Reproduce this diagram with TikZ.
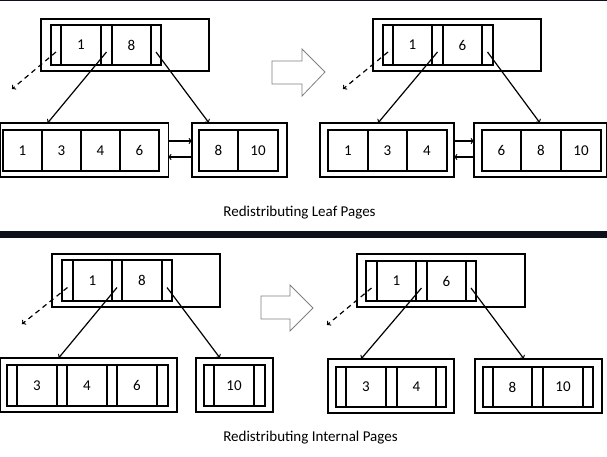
\documentclass[tikz,border=0pt]{standalone}
\usepackage{fontspec}
\setmainfont{Carlito}
\usepackage{xcolor}
\definecolor{barcol}{HTML}{0F111A}

\tikzset{
  page/.style={draw, line width=1.2pt, inner sep=0pt, outer sep=0pt, anchor=north west},
  slot/.style={draw, line width=1.2pt, inner sep=0pt, outer sep=0pt, anchor=north west},
  key/.style={slot, font=\fontsize{15}{18}\selectfont},
  link/.style={->, line width=1.2pt},
  nullptr/.style={->, dash pattern=on 5pt off 4pt, line width=1.2pt},
  fatarrow/.style={draw=gray, line width=0.8pt, fill=white},
}

\begin{document}
\begin{tikzpicture}[x=1pt,y=-1pt]

\useasboundingbox (0,0) rectangle (607,456);

% frame lines
\draw[line width=1.2pt, color=barcol] (0,0.6) -- (607,0.6);
\fill[barcol] (0,231) rectangle (607,238);

%%%%% redistributing leaf pages, before

%root
\node[page, minimum width=168, minimum height=52] at (41,19) (tlr) {};
\node[slot, minimum width=10, minimum height=40] at (51,25) (tlp0) {};
\node[key, minimum width=40, minimum height=40] at (61,25) (tlk1) {1};
\node[slot, minimum width=11, minimum height=40] at (101,25) (tlp1) {};
\node[key, minimum width=39, minimum height=40] at (112,25) (tlk2) {8};
\node[slot, minimum width=10, minimum height=40] at (151,25) (tlp2) {};

%leaves
\node[page, minimum width=167.5, minimum height=54] at (0.6,123) (tla) {};
\node[key, minimum width=39, minimum height=41] at (3,130) (tla1) {1};
\node[key, minimum width=39, minimum height=41] at (42,130) (tla2) {3};
\node[key, minimum width=39, minimum height=41] at (81,130) (tla3) {4};
\node[key, minimum width=39, minimum height=41] at (120,130) (tla4) {6};

\node[page, minimum width=95, minimum height=54] at (192,123) (tlb) {};
\node[key, minimum width=39, minimum height=41] at (199,130) (tlb1) {8};
\node[key, minimum width=40, minimum height=41] at (238,130) (tlb2) {10};

\coordinate (tlnull) at (12,89);
\draw[nullptr] ([yshift=-7pt]tlp0.center) -- (tlnull);
\draw[link] ([yshift=-7pt]tlp1.center) -- ([xshift=47pt]tla.north west);
\draw[link] ([yshift=-7pt]tlp2.center) -- ([xshift=17pt]tlb.north west);
\draw[link] ([yshift=9pt]tla.east) -- ([yshift=9pt]tlb.west);
\draw[link] ([yshift=-7pt]tlb.west) -- ([yshift=-7pt]tla.east);

%arrow
\draw[fatarrow] (272,61) -- (302,61) -- (302,49) -- (325,72) -- (302,96) -- (302,84) -- (272,84) -- cycle;

%%%%% redistributing leaf pages, after

%root
\node[page, minimum width=168, minimum height=52] at (373,19) (trr) {};
\node[slot, minimum width=10, minimum height=40] at (383,25) (trp0) {};
\node[key, minimum width=39, minimum height=40] at (393,25) (trk1) {1};
\node[slot, minimum width=11, minimum height=40] at (432,25) (trp1) {};
\node[key, minimum width=39, minimum height=40] at (443,25) (trk2) {6};
\node[slot, minimum width=11, minimum height=40] at (482,25) (trp2) {};

%leaves
\node[page, minimum width=134, minimum height=54] at (320,123) (trc) {};
\node[key, minimum width=40, minimum height=41] at (328,130) (trc1) {1};
\node[key, minimum width=39, minimum height=41] at (368,130) (trc2) {3};
\node[key, minimum width=40, minimum height=41] at (407,130) (trc3) {4};

\node[page, minimum width=132.4, minimum height=54] at (474,123) (trd) {};
\node[key, minimum width=39, minimum height=41] at (482,130) (trd1) {6};
\node[key, minimum width=40, minimum height=41] at (521,130) (trd2) {8};
\node[key, minimum width=40, minimum height=41] at (561,130) (trd3) {10};

\coordinate (trnull) at (343,89);
\draw[nullptr] ([yshift=-7pt]trp0.center) -- (trnull);
\draw[link] ([yshift=-7pt]trp1.center) -- ([xshift=58pt]trc.north west);
\draw[link] ([yshift=-7pt]trp2.center) -- ([xshift=66pt]trd.north west);
\draw[link] ([yshift=9pt]trc.east) -- ([yshift=9pt]trd.west);
\draw[link] ([yshift=-7pt]trd.west) -- ([yshift=-7pt]trc.east);

\node at (299.5,213) (leafcap) {\fontsize{15}{18}\selectfont Redistributing Leaf Pages};

%%%%% redistributing internal pages, before

%root
\node[page, minimum width=168, minimum height=53] at (52,254) (blr) {};
\node[slot, minimum width=11, minimum height=41] at (62,260) (blp0) {};
\node[key, minimum width=39, minimum height=41] at (73,260) (blk1) {1};
\node[slot, minimum width=10, minimum height=41] at (112,260) (blp1) {};
\node[key, minimum width=40, minimum height=41] at (122,260) (blk2) {8};
\node[slot, minimum width=10, minimum height=41] at (162,260) (blp2) {};

%children
\node[page, minimum width=176.4, minimum height=54] at (0.6,358) (blc) {};
\node[slot, minimum width=10, minimum height=41] at (7,365) (blc0) {};
\node[key, minimum width=40, minimum height=41] at (17,365) (blc1) {3};
\node[slot, minimum width=10, minimum height=41] at (57,365) (blc2) {};
\node[key, minimum width=40, minimum height=41] at (67,365) (blc3) {4};
\node[slot, minimum width=10, minimum height=41] at (107,365) (blc4) {};
\node[key, minimum width=40, minimum height=41] at (117,365) (blc5) {6};
\node[slot, minimum width=11, minimum height=41] at (157,365) (blc6) {};

\node[page, minimum width=77, minimum height=54] at (196,358) (bld) {};
\node[slot, minimum width=10, minimum height=41] at (204,365) (bld0) {};
\node[key, minimum width=40, minimum height=41] at (214,365) (bld1) {10};
\node[slot, minimum width=11, minimum height=41] at (254,365) (bld2) {};

\coordinate (blnull) at (22,324);
\draw[nullptr] ([yshift=-7pt]blp0.center) -- (blnull);
\draw[link] ([yshift=-7pt]blp1.center) -- ([xshift=58pt]blc.north west);
\draw[link] ([yshift=-7pt]blp2.center) -- ([xshift=24pt]bld.north west);

%arrow
\draw[fatarrow] (261,296) -- (290,296) -- (290,285) -- (313,308) -- (290,331) -- (290,319) -- (261,319) -- cycle;

%%%%% redistributing internal pages, after

%root
\node[page, minimum width=168, minimum height=53] at (357,254) (brr) {};
\node[slot, minimum width=11, minimum height=40] at (366,261) (brp0) {};
\node[key, minimum width=39, minimum height=40] at (377,261) (brk1) {1};
\node[slot, minimum width=11, minimum height=40] at (416,261) (brp1) {};
\node[key, minimum width=39, minimum height=40] at (427,261) (brk2) {6};
\node[slot, minimum width=10, minimum height=40] at (466,261) (brp2) {};

%children
\node[page, minimum width=126, minimum height=54] at (328,359) (brc) {};
\node[slot, minimum width=10, minimum height=40] at (336,367) (brc0) {};
\node[key, minimum width=40, minimum height=40] at (346,367) (brc1) {3};
\node[slot, minimum width=11, minimum height=40] at (386,367) (brc2) {};
\node[key, minimum width=39, minimum height=40] at (397,367) (brc3) {4};
\node[slot, minimum width=10, minimum height=40] at (436,367) (brc4) {};

\node[page, minimum width=127, minimum height=54] at (475,359) (brd) {};
\node[slot, minimum width=10, minimum height=40] at (483,367) (brd0) {};
\node[key, minimum width=39, minimum height=40] at (493,367) (brd1) {8};
\node[slot, minimum width=11, minimum height=40] at (532,367) (brd2) {};
\node[key, minimum width=40, minimum height=40] at (543,367) (brd3) {10};
\node[slot, minimum width=10, minimum height=40] at (583,367) (brd4) {};

\coordinate (brnull) at (327,325);
\draw[nullptr] ([yshift=-7pt]brp0.center) -- (brnull);
\draw[link] ([yshift=-7pt]brp1.center) -- ([xshift=33pt]brc.north west);
\draw[link] ([yshift=-7pt]brp2.center) -- ([xshift=49pt]brd.north west);

\node at (310.5,438) (intcap) {\fontsize{15}{18}\selectfont Redistributing Internal Pages};

\end{tikzpicture}
\end{document}
